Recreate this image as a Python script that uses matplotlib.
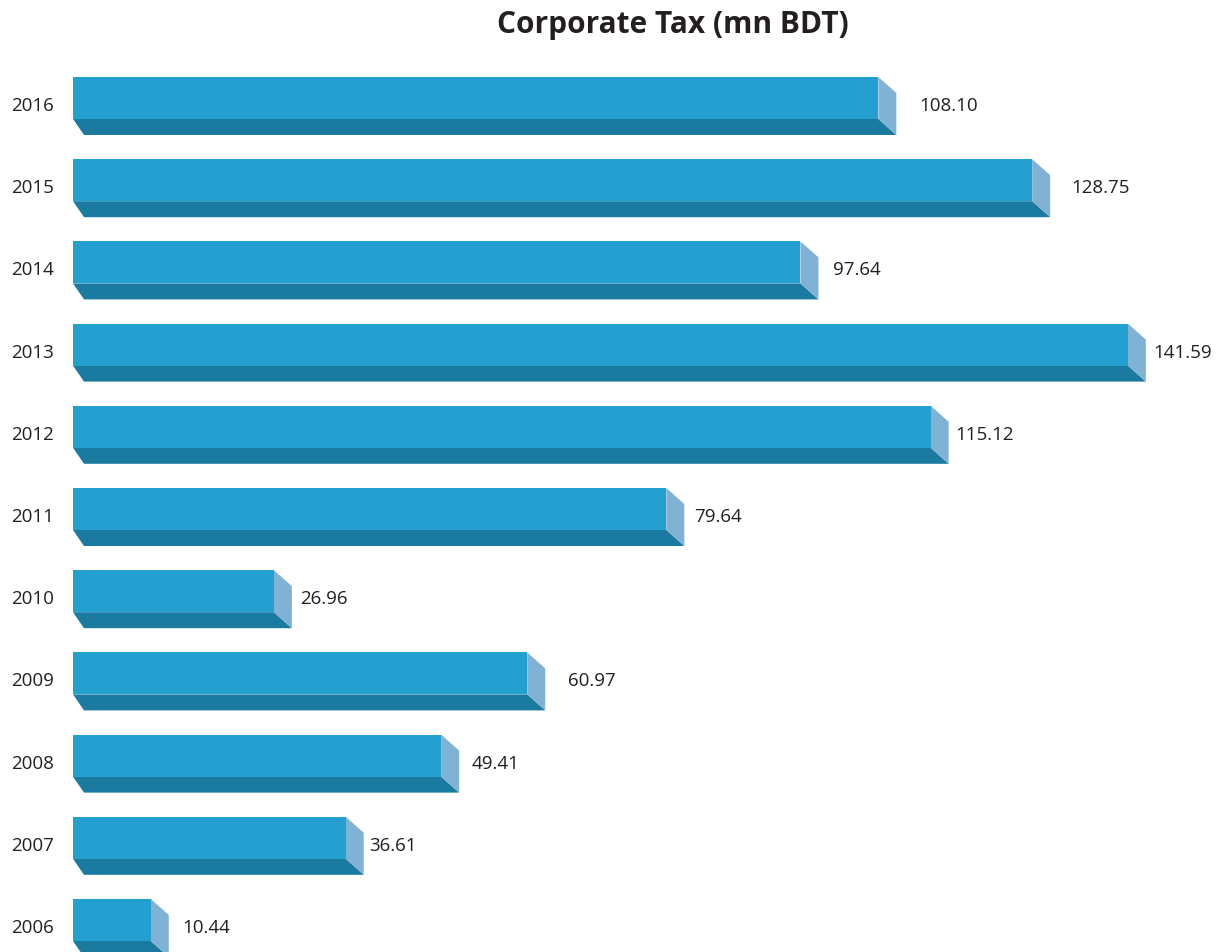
import matplotlib
matplotlib.use("Agg")
import matplotlib.pyplot as plt
from matplotlib.patches import Polygon

years = ["2016", "2015", "2014", "2013", "2012", "2011", "2010", "2009", "2008", "2007", "2006"]
values = [108.10, 128.75, 97.64, 141.59, 115.12, 79.64, 26.96, 60.97, 49.41, 36.61, 10.44]
value_labels = ["108.10", "128.75", "97.64", "141.59", "115.12", "79.64", "26.96", "60.97", "49.41", "36.61", "10.44"]
title = "Corporate Tax (mn BDT)"

# layout / style
W, H, DPI = 1218, 953, 100
x0_px = 73
px_per_unit = 7.45
pitch_px = 82.2
first_center_px = 107
front_top_px, front_bot_px, depth_px = 29, 13, 16   # relative to shape center
dxR_px, dxL_px = 18, 11
label_pad_px = [23, 21, 15, 7, 7, 10, 8, 23, 13, 5, 14]

c_front = "#24a0d0"
c_bottom = "#1a7aa0"
c_side = "#80b2d5"
txt = "#231f20"

plt.rcParams['font.family'] = ['Open Sans', 'DejaVu Sans']

fig = plt.figure(figsize=(W / DPI, H / DPI), dpi=DPI)
ax = fig.add_axes([x0_px / W, 0, (W - x0_px) / W, 1])
ax.set_xlim(0, (W - x0_px) / px_per_unit)
ax.set_ylim((H - first_center_px) / pitch_px, -first_center_px / pitch_px)

ux = 1 / px_per_unit
uy = 1 / pitch_px
ft = front_top_px * uy
fb = front_bot_px * uy
d = depth_px * uy
dxR = dxR_px * ux
dxL = dxL_px * ux

ypos = list(range(len(years)))
centers = [y - (ft - fb) / 2 for y in ypos]
ax.barh(centers, values, height=ft + fb, left=0, color=c_front, linewidth=0, zorder=3)

for y, v, pad, lab in zip(ypos, values, label_pad_px, value_labels):
    top = y - ft
    bot = y + fb
    ax.add_patch(Polygon([(0, bot), (v, bot), (v + dxR, bot + d), (dxL, bot + d)],
                         closed=True, facecolor=c_bottom, edgecolor='none', zorder=2))
    ax.add_patch(Polygon([(v, top), (v + dxR, top + d), (v + dxR, bot + d), (v, bot)],
                         closed=True, facecolor=c_side, edgecolor='none', zorder=2))
    ax.text(v + dxR + pad * ux, y - 1 * uy, lab, ha='left', va='center', fontsize=13.5, color=txt)

ax.set_yticks([y - 3 * uy for y in ypos])
ax.set_yticklabels(years, fontsize=13.5, color=txt)
ax.tick_params(axis='y', length=0, pad=19 * 72 / DPI)
ax.set_xticks([])
for s in ax.spines.values():
    s.set_visible(False)
ax.patch.set_alpha(0)

fig.text(673 / W, 1 - 25 / H, title, ha='center', va='center', fontsize=21.5,
         fontweight='bold', color=txt)

fig.savefig("out.png", dpi=DPI)
